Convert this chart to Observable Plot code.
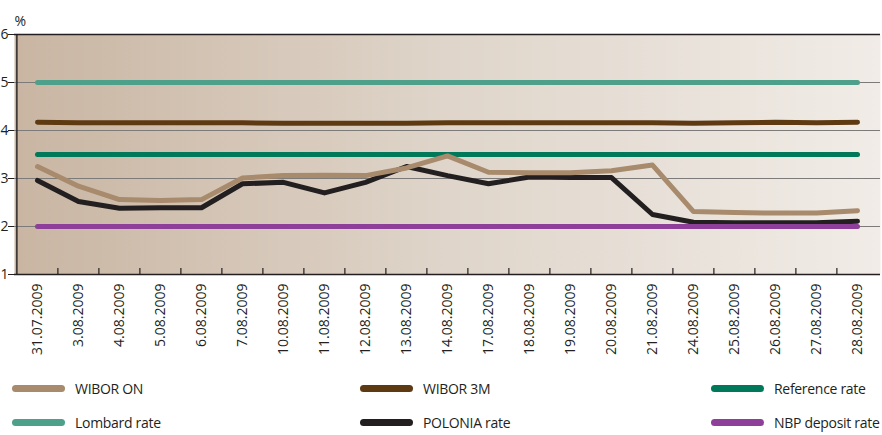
<!DOCTYPE html>
<html><head><meta charset="utf-8">
<script src="https://cdn.jsdelivr.net/npm/d3@7"></script>
<script src="https://cdn.jsdelivr.net/npm/@observablehq/plot@0.6"></script>
<style>
body{margin:0;background:#fff;font-family:"Open Sans",sans-serif;}
#wrap{position:relative;width:882px;height:435px;}
.lg{position:absolute;display:flex;align-items:center;font-size:14px;letter-spacing:-0.3px;white-space:nowrap;color:#231f20;}
.sw{width:53px;height:7px;border-radius:3.5px;margin-right:10px;flex:none;}
</style></head><body>
<div id="wrap"></div>
<script>
const dates = ["31.07.2009","3.08.2009","4.08.2009","5.08.2009","6.08.2009","7.08.2009","10.08.2009","11.08.2009","12.08.2009","13.08.2009","14.08.2009","17.08.2009","18.08.2009","19.08.2009","20.08.2009","21.08.2009","24.08.2009","25.08.2009","26.08.2009","27.08.2009","28.08.2009"];
const wiborOn  = [3.25,2.84,2.56,2.54,2.56,3.01,3.06,3.07,3.06,3.22,3.47,3.13,3.12,3.12,3.16,3.28,2.31,2.29,2.28,2.28,2.33];
const wibor3m  = [4.17,4.16,4.16,4.16,4.16,4.16,4.15,4.15,4.15,4.15,4.16,4.16,4.16,4.16,4.16,4.16,4.15,4.16,4.17,4.16,4.17];
const reference= [3.5,3.5,3.5,3.5,3.5,3.5,3.5,3.5,3.5,3.5,3.5,3.5,3.5,3.5,3.5,3.5,3.5,3.5,3.5,3.5,3.5];
const lombard  = [5,5,5,5,5,5,5,5,5,5,5,5,5,5,5,5,5,5,5,5,5];
const polonia  = [2.96,2.52,2.38,2.39,2.39,2.89,2.92,2.70,2.92,3.25,3.06,2.89,3.03,3.02,3.02,2.25,2.09,2.08,2.08,2.08,2.11];
const deposit  = [2,2,2,2,2,2,2,2,2,2,2,2,2,2,2,2,2,2,2,2,2];
const yTicks = [1,2,3,4,5,6];

const series = [
  {name:"WIBOR ON", values:wiborOn, color:"#a88a6c"},
  {name:"WIBOR 3M", values:wibor3m, color:"#5e3a12"},
  {name:"Reference rate", values:reference, color:"#00785a"},
  {name:"Lombard rate", values:lombard, color:"#4fa08b"},
  {name:"POLONIA rate", values:polonia, color:"#231f20"},
  {name:"NBP deposit rate", values:deposit, color:"#8e3f9a"}
];
const drawOrder = ["Lombard rate","WIBOR 3M","Reference rate","POLONIA rate","WIBOR ON","NBP deposit rate"];
const rows = series.flatMap(s => s.values.map((v,i)=>({name:s.name, date:dates[i], value:v})));

const W=882, H=370, mL=14, mR=2;
const step = (W-mL-mR)/dates.length;

const defs = () => {
  const d = d3.create("svg:defs");
  const g = d.append("linearGradient").attr("id","bg").attr("x1","0").attr("x2","1").attr("y1","0").attr("y2","0");
  g.append("stop").attr("offset","0%").attr("stop-color","#c9b5a2");
  g.append("stop").attr("offset","50%").attr("stop-color","#dfd5ca");
  g.append("stop").attr("offset","100%").attr("stop-color","#f1ece7");
  return d.node();
};

const marks = [
  defs,
  Plot.frame({fill:"url(#bg)", stroke:"none"}),
  Plot.ruleY([2,3,4,5], {stroke:"#7d7b79", strokeWidth:1.2}),
  Plot.axisY(yTicks, {tickSize:6, tickPadding:0, fontSize:14, fill:"#231f20", stroke:"#231f20", label:null}),
  Plot.axisX({tickSize:0, tickRotate:-90, tickPadding:9, fontSize:14, fill:"#231f20", label:null}),
  Plot.ruleX(dates.slice(1), {y1:1, y2:1.125, dx:-step/2, stroke:"#231f20", strokeWidth:1.2}),
  ...drawOrder.map(n => {
    const s = series.find(d=>d.name===n);
    return Plot.line(rows.filter(r=>r.name===n), {x:"date", y:"value", stroke:s.color, strokeWidth:5, strokeLinecap:"round", strokeLinejoin:"round"});
  }),
  Plot.ruleY([1,6], {stroke:"#231f20", strokeWidth:1.4}),
  Plot.ruleX([dates[0]], {dx:-step/2, y1:1, y2:6, stroke:"#231f20", strokeWidth:1.4}),
  Plot.text(["%"], {frameAnchor:"top-left", dx:0, dy:-18, textAnchor:"start", fontSize:14, fill:"#231f20"})
];

const chart = Plot.plot({
  width:W, height:H, marginLeft:mL, marginRight:mR, marginTop:34, marginBottom:H-274,
  style:{fontFamily:"Open Sans, sans-serif", background:"transparent", overflow:"visible"},
  x:{type:"point", domain:dates, padding:0.5},
  y:{domain:[1,6]},
  marks
});
const wrap = document.getElementById("wrap");
wrap.appendChild(chart);

const pos = [[12,388],[360,388],[711,388],[12,422],[360,422],[711,422]];
series.forEach((s,i)=>{
  const el = document.createElement("div");
  el.className="lg";
  el.style.left = pos[i][0]+"px";
  el.style.top = (pos[i][1]-10)+"px";
  el.style.height="20px";
  el.innerHTML = `<div class="sw" style="background:${s.color}"></div><span>${s.name}</span>`;
  wrap.appendChild(el);
});
</script>
</body></html>
